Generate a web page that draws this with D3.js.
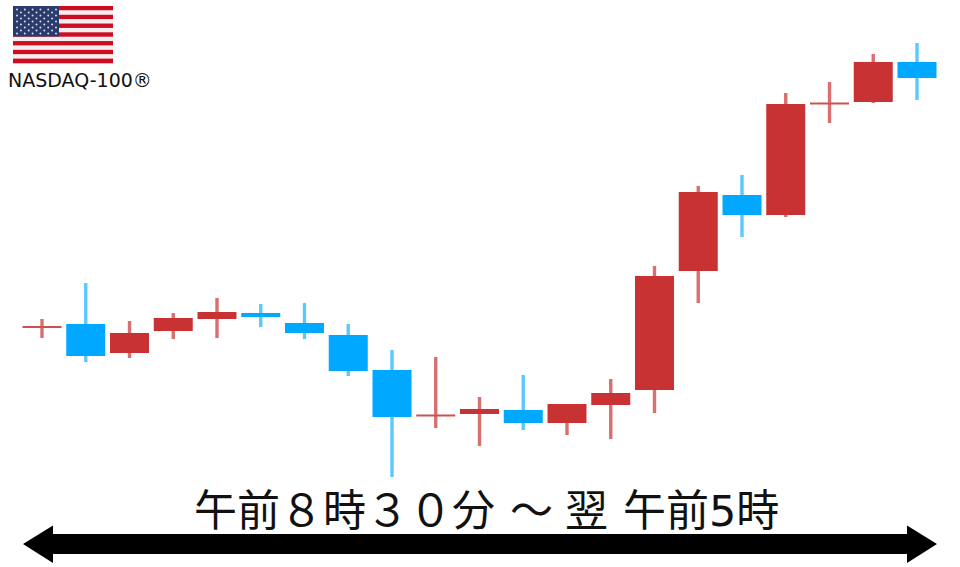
<!DOCTYPE html>
<html lang="ja">
<head>
    <meta charset="UTF-8">
    <script src="https://d3js.org/d3.v7.min.js"></script>
    <style>
        html, body { margin: 0; padding: 0; background: #fff; }
        svg { display: block; }
        text { font-family: "DejaVu Sans", "Noto Sans CJK JP", sans-serif; fill: #111; }
    </style>
</head>
<body>
    <div id="chart"></div>
    <script>
        const slots  = d3.range(21);
        const opens  = [241, 211, 214, 236, 248, 250, 234, 196, 150, 152.5, 153, 144, 144, 162, 177, 296, 352, 352, 464.5, 465, 489];
        const closes = [241, 243, 234, 249, 255, 254, 244, 232, 197, 152.5, 158, 157, 163, 174, 291, 375, 372, 463, 464.5, 505, 505];
        const highs  = [248, 284, 246, 254, 269, 263, 264, 243, 217, 210, 170, 192, 163, 188, 301, 381, 392, 474, 485, 513, 524];
        const lows   = [229, 205, 209, 228, 229, 240, 228, 191, 90, 139, 121, 137, 132, 128, 154, 264, 330, 350, 444, 464, 467];
        const isBlue = [false, true, false, false, false, true, true, true, true, false, false, true, false, false, false, false, true, false, false, false, true];
        const titleParts = ["午前８時３０分", "～", "翌", "午前5時"];
        const titleStarts = [194, 510, 565, 623];
        const indexName = "NASDAQ-100®";

        const width = 960, height = 567;
        const bodyW = 39;

        const svg = d3.select("#chart").append("svg")
            .attr("width", width)
            .attr("height", height);

        const defs = svg.append("defs");
        defs.append("filter")
            .attr("id", "soft")
            .append("feGaussianBlur")
            .attr("stdDeviation", 0.7);
        defs.append("filter")
            .attr("id", "softer")
            .append("feGaussianBlur")
            .attr("stdDeviation", 0.45);

        const x = d3.scalePoint().domain(slots).range([42, 917]);
        const y = d3.scaleLinear().domain([0, height]).range([height, 0]);

        const candles = svg.append("g").attr("filter", "url(#soft)")
            .selectAll("g")
            .data(slots)
            .enter().append("g");

        candles.append("line")
            .attr("x1", i => x(i))
            .attr("x2", i => x(i))
            .attr("y1", i => y(highs[i]))
            .attr("y2", i => y(lows[i]))
            .attr("stroke", i => isBlue[i] ? "#5cc8ff" : "#d96f6f")
            .attr("stroke-width", 3.4);

        candles.append("rect")
            .attr("x", i => x(i) - bodyW / 2)
            .attr("width", bodyW)
            .attr("y", i => y(Math.max(opens[i], closes[i])))
            .attr("height", i => Math.max(2, Math.abs(opens[i] - closes[i])))
            .attr("fill", i => isBlue[i] ? "#00a8ff" : (opens[i] === closes[i] ? "#d04f50" : "#c93232"));

        // flag
        const flag = svg.append("g").attr("filter", "url(#softer)");
        const stripes = d3.range(13);
        const flagX = d3.scaleLinear().domain([0, 100]).range([13, 113]);
        const flagY = d3.scaleBand().domain(stripes).range([6, 63]);
        flag.selectAll("rect.stripe")
            .data(stripes)
            .enter().append("rect")
            .attr("class", "stripe")
            .attr("x", flagX(0))
            .attr("width", flagX(100) - flagX(0))
            .attr("y", d => flagY(d))
            .attr("height", flagY.bandwidth() + 0.3)
            .attr("fill", d => d % 2 ? "#f6eeee" : "#cc0a20");
        flag.append("rect")
            .attr("x", flagX(0)).attr("y", 6)
            .attr("width", 46).attr("height", 30.5)
            .attr("fill", "#2b3a6e");
        const starRows = d3.range(9), starCols = d3.range(11);
        starRows.forEach(r => {
            starCols.filter(c => (c + r) % 2 === 0).forEach(c => {
                flag.append("circle")
                    .attr("cx", 17 + c * 3.9)
                    .attr("cy", 9.5 + r * 3)
                    .attr("r", 0.95)
                    .attr("fill", "#dfe3ef");
            });
        });

        svg.append("text")
            .attr("x", 8).attr("y", 86.5)
            .attr("font-size", 19)
            .text(indexName);

        svg.selectAll("text.title")
            .data(titleParts)
            .enter().append("text")
            .attr("class", "title")
            .attr("x", (d, i) => titleStarts[i])
            .attr("y", 526)
            .attr("font-size", 43)
            .text(d => d);

        // double arrow under the title
        svg.append("path")
            .attr("d", d3.line()([[23, 544], [53, 525.5], [53, 534], [907, 534], [907, 525.5], [937, 544], [907, 563], [907, 554], [53, 554], [53, 563]]) + "Z")
            .attr("fill", "#000");
    </script>
</body>
</html>
